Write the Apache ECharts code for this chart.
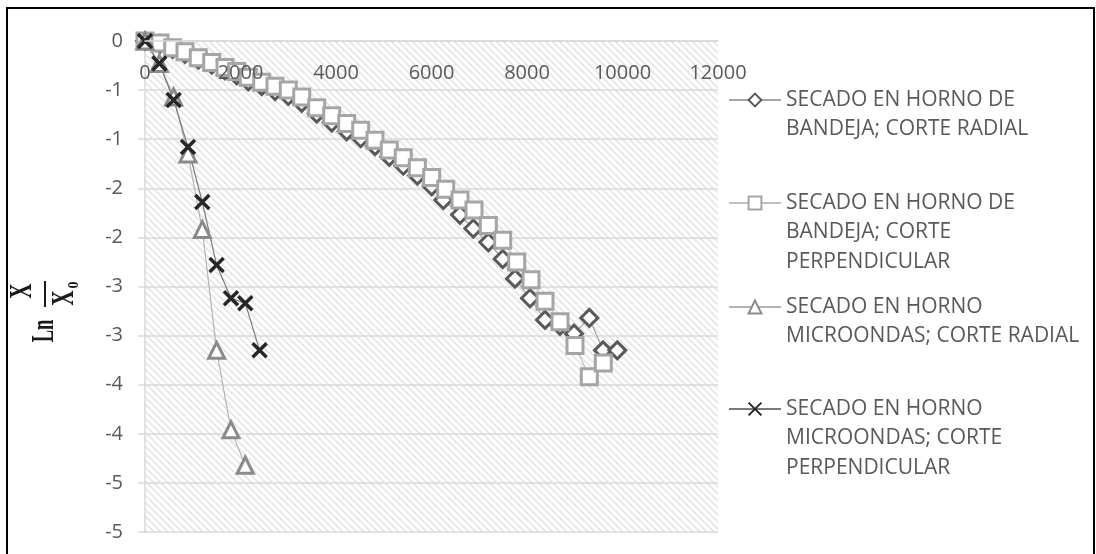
<!DOCTYPE html>
<html>
<head>
<meta charset="utf-8">
<script src="https://cdn.jsdelivr.net/npm/echarts@6/dist/echarts.min.js"></script>
<style>
  html, body { margin: 0; padding: 0; background: #fff; }
  #chart { width: 1096px; height: 554px; }
</style>
</head>
<body>
<div id="chart"></div>
<script>
// tiempo (s) vs Ln(X/X0)
var bandejaRadialT = [0, 314, 580, 838, 1116, 1397, 1675, 1920, 2163, 2444, 2723, 3001, 3282, 3596, 3910, 4224, 4517, 4817, 5116, 5409, 5703, 6004, 6247, 6597, 6875, 7190, 7491, 7749, 8063, 8377, 8691, 8984, 9305, 9592, 9891];
var bandejaRadialLn = [0, -0.03, -0.08, -0.13, -0.19, -0.24, -0.30, -0.35, -0.41, -0.46, -0.51, -0.56, -0.63, -0.74, -0.83, -0.92, -0.99, -1.07, -1.18, -1.27, -1.37, -1.48, -1.62, -1.77, -1.91, -2.05, -2.22, -2.42, -2.62, -2.84, -2.90, -2.98, -2.82, -3.15, -3.15];

var bandejaPerpT = [0, 314, 580, 838, 1116, 1397, 1675, 1920, 2163, 2444, 2723, 3001, 3282, 3596, 3910, 4224, 4517, 4817, 5116, 5409, 5703, 6004, 6297, 6597, 6890, 7190, 7491, 7784, 8084, 8377, 8691, 9005, 9305, 9598];
var bandejaPerpLn = [0, -0.02, -0.07, -0.11, -0.17, -0.22, -0.27, -0.31, -0.37, -0.42, -0.46, -0.50, -0.57, -0.68, -0.76, -0.84, -0.91, -1.01, -1.11, -1.19, -1.29, -1.39, -1.51, -1.62, -1.72, -1.88, -2.03, -2.25, -2.43, -2.65, -2.86, -3.10, -3.42, -3.28];

var microRadialT = [0, 300, 600, 900, 1200, 1500, 1800, 2100];
var microRadialLn = [0, -0.23, -0.57, -1.15, -1.92, -3.15, -3.96, -4.32];

var microPerpT = [0, 300, 600, 900, 1200, 1500, 1800, 2100, 2400];
var microPerpLn = [0, -0.23, -0.60, -1.08, -1.64, -2.28, -2.62, -2.67, -3.15];

var seriesNames = [
  'SECADO EN HORNO DE BANDEJA; CORTE RADIAL',
  'SECADO EN HORNO DE BANDEJA; CORTE PERPENDICULAR',
  'SECADO EN HORNO MICROONDAS; CORTE RADIAL',
  'SECADO EN HORNO MICROONDAS; CORTE PERPENDICULAR'
];
var legendLines = [
  ['SECADO EN HORNO DE', 'BANDEJA; CORTE RADIAL'],
  ['SECADO EN HORNO DE', 'BANDEJA; CORTE', 'PERPENDICULAR'],
  ['SECADO EN HORNO', 'MICROONDAS; CORTE RADIAL'],
  ['SECADO EN HORNO', 'MICROONDAS; CORTE', 'PERPENDICULAR']
];
// etiquetas del eje Y tal como salen en Excel (formato "0")
var yTickLabels = ['0', '-1', '-1', '-2', '-2', '-3', '-3', '-4', '-4', '-5', '-5'];

var FONT = '"Open Sans", "Noto Sans", sans-serif';
var TXT = '#595959';
var LH = 29.5;

function zip(xs, ys) {
  var out = [];
  for (var i = 0; i < xs.length; i++) out.push([xs[i], ys[i]]);
  return out;
}

// fondo rayado del area de trazado
var TILE = 7;
var hatch = document.createElement('canvas');
hatch.width = TILE;
hatch.height = TILE;
var hctx = hatch.getContext('2d');
hctx.fillStyle = '#ffffff';
hctx.fillRect(0, 0, TILE, TILE);
hctx.strokeStyle = '#e6e6e6';
hctx.lineWidth = 1.8;
for (var k = -TILE; k <= TILE; k += TILE) {
  hctx.beginPath();
  hctx.moveTo(k - 1, -1);
  hctx.lineTo(k + TILE + 1, TILE + 1);
  hctx.stroke();
}

function lineSeries(name, data, symbol, size, border, lineColor) {
  return {
    name: name,
    type: 'line',
    data: data,
    symbol: symbol,
    symbolSize: size,
    showAllSymbol: true,
    animation: false,
    itemStyle: { color: '#ffffff', borderColor: border, borderWidth: 3 },
    lineStyle: { color: lineColor, width: 1.2 },
    emphasis: { disabled: true }
  };
}

var series = [
  lineSeries(seriesNames[0], zip(bandejaRadialT, bandejaRadialLn), 'diamond', 17, '#595959', '#a6a6a6'),
  lineSeries(seriesNames[1], zip(bandejaPerpT, bandejaPerpLn), 'rect', 16, '#a5a5a5', '#bfbfbf'),
  lineSeries(seriesNames[2], zip(microRadialT, microRadialLn), 'triangle', 16, '#8a8a8a', '#b3b3b3'),
  lineSeries(seriesNames[3], zip(microPerpT, microPerpLn), 'path://M0,0L10,10M10,0L0,10', 14, '#262626', '#7a7a7a')
];
series[3].itemStyle.color = '#262626';
series[3].itemStyle.borderWidth = 3.5;

// una leyenda por serie; lineas vacias delante para que el simbolo
// quede a la altura de la primera linea de texto
var legendCenters = [100, 203, 307, 409];
var legends = seriesNames.map(function (n, i) {
  var lines = legendLines[i].length;
  var txt = new Array(lines).join('\n') + legendLines[i].join('\n');
  return {
    data: [n],
    left: 728,
    top: legendCenters[i] - (2 * lines - 1) * LH / 2,
    orient: 'vertical',
    padding: 0,
    itemWidth: 52,
    itemHeight: 16,
    selectedMode: false,
    formatter: function () { return txt; },
    textStyle: { color: TXT, fontSize: 21, fontFamily: FONT, lineHeight: LH }
  };
});

var TITLE_FONT = 'bold 32px "Liberation Serif", serif';
var chart = echarts.init(document.getElementById('chart'));
var option = {
  backgroundColor: '#ffffff',
  animation: false,
  grid: {
    left: 145, top: 41, width: 573, height: 491,
    show: true,
    borderWidth: 0,
    backgroundColor: { image: hatch, repeat: 'repeat' },
    containLabel: false,
    outerBoundsMode: 'none'
  },
  xAxis: {
    type: 'value',
    position: 'top',
    z: 5,
    min: 0, max: 12000, interval: 2000,
    axisLine: { show: true, onZero: false, lineStyle: { color: '#d9d9d9', width: 1.5 } },
    axisTick: { show: false },
    axisLabel: {
      inside: true, margin: 22, color: TXT, fontSize: 20, fontFamily: FONT,
      formatter: function (v) { return String(v); }
    },
    splitLine: { show: false }
  },
  yAxis: {
    type: 'value',
    min: -5, max: 0, interval: 0.5,
    axisLine: { show: true, onZero: false, lineStyle: { color: '#d9d9d9', width: 1.5 } },
    axisTick: { show: true, length: 7, lineStyle: { color: '#d9d9d9', width: 1.5 } },
    axisLabel: {
      margin: 22, color: TXT, fontSize: 20, fontFamily: FONT,
      formatter: function (v) { return yTickLabels[Math.round(-v / 0.5)]; }
    },
    splitLine: { show: true, lineStyle: { color: '#d9d9d9', width: 1.5 } }
  },
  legend: legends,
  series: series,
  graphic: [
    {
      type: 'rect',
      shape: { x: 7, y: 8, width: 1087, height: 560 },
      style: { fill: 'none', stroke: '#000', lineWidth: 2 },
      silent: true
    },
    {
      // titulo eje Y: Ln X/X0 girado
      type: 'group',
      x: 45, y: 312,
      rotation: Math.PI / 2,
      children: [
        { type: 'text', x: -19, y: 0, scaleX: 0.58,
          style: { text: 'Ln', font: TITLE_FONT, fill: '#1a1a1a', align: 'center', verticalAlign: 'middle' } },
        { type: 'text', x: 21, y: -22, scaleX: 0.66,
          style: { text: 'X', font: TITLE_FONT, fill: '#1a1a1a', align: 'center', verticalAlign: 'middle' } },
        { type: 'line', shape: { x1: 5, y1: 0, x2: 31, y2: 0 }, style: { stroke: '#1a1a1a', lineWidth: 2 } },
        { type: 'text', x: 14, y: 20, scaleX: 0.66,
          style: { text: 'X', font: TITLE_FONT, fill: '#1a1a1a', align: 'center', verticalAlign: 'middle' } },
        { type: 'text', x: 27, y: 29,
          style: { text: '0', font: 'bold 14px "Liberation Serif", serif', fill: '#1a1a1a', align: 'center', verticalAlign: 'middle' } }
      ]
    }
  ]
};
chart.setOption(option);
</script>
</body>
</html>
